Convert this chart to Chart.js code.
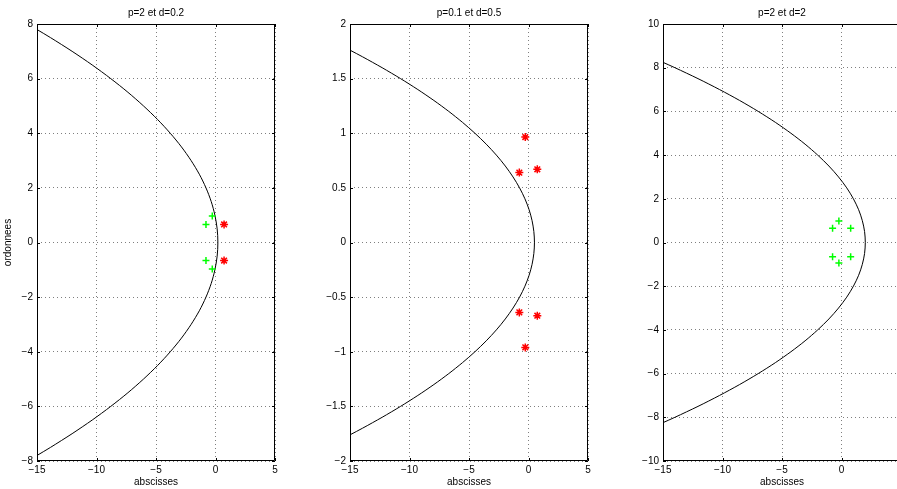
<!DOCTYPE html>
<html>
<head>
<meta charset="utf-8">
<script src="https://cdn.jsdelivr.net/npm/chart.js@4/dist/chart.umd.min.js"></script>
<style>
  html, body { margin:0; padding:0; background:#fff; width:897px; height:489px; overflow:hidden; }
  #wrap { position:relative; width:897px; height:489px; overflow:hidden; }
  canvas { position:absolute; top:0; }
</style>
</head>
<body>
<div id="wrap">
  <canvas id="c1" width="300" height="489" style="left:0px"></canvas>
  <canvas id="c2" width="300" height="489" style="left:313px"></canvas>
  <canvas id="c3" width="300" height="489" style="left:626px"></canvas>
</div>
<script>
// ---------- data ----------
const titles = ["p=2 et d=0.2", "p=0.1 et d=0.5", "p=2 et d=2"];
const xTitle = "abscisses";
const yTitle = "ordonnees";

const xTicksRange = [-15, 5, 5];           // min, max, step
const yTicksRange1 = [-8, 8, 2];
const yTicksRange2 = [-2, 2, 0.5];
const yTicksRange3 = [-10, 10, 2];

// plot 1 : p=2, d=0.2
const curve1Y = [7.8,7.5,7,6.5,6,5.5,5,4.5,4,3.5,3,2.5,2,1.5,1,0.5,0,-0.5,-1,-1.5,-2,-2.5,-3,-3.5,-4,-4.5,-5,-5.5,-6,-6.5,-7,-7.5,-7.8];
const curve1X = [-15.01,-13.86,-12.05,-10.36,-8.8,-7.36,-6.05,-4.86,-3.8,-2.86,-2.05,-1.36,-0.8,-0.36,-0.05,0.14,0.2,0.14,-0.05,-0.36,-0.8,-1.36,-2.05,-2.86,-3.8,-4.86,-6.05,-7.36,-8.8,-10.36,-12.05,-13.86,-15.01];
const green1X = [-0.27, -0.8, -0.8, -0.27];
const green1Y = [0.97, 0.66, -0.66, -0.97];
const red1X = [0.72, 0.72];
const red1Y = [0.66, -0.66];

// plot 2 : p=0.1, d=0.5
const curve2Y = [1.76,1.7,1.6,1.5,1.4,1.3,1.2,1.1,1,0.9,0.8,0.7,0.6,0.5,0.4,0.3,0.2,0.1,0,-0.1,-0.2,-0.3,-0.4,-0.5,-0.6,-0.7,-0.8,-0.9,-1,-1.1,-1.2,-1.3,-1.4,-1.5,-1.6,-1.7,-1.76];
const curve2X = [-14.99,-13.95,-12.3,-10.75,-9.3,-7.95,-6.7,-5.55,-4.5,-3.55,-2.7,-1.95,-1.3,-0.75,-0.3,0.05,0.3,0.45,0.5,0.45,0.3,0.05,-0.3,-0.75,-1.3,-1.95,-2.7,-3.55,-4.5,-5.55,-6.7,-7.95,-9.3,-10.75,-12.3,-13.95,-14.99];
const red2X = [-0.27, -0.77, 0.74, -0.77, 0.74, -0.27];
const red2Y = [0.965, 0.64, 0.67, -0.64, -0.67, -0.96];

// plot 3 : p=2, d=2
const curve3Y = [8.25,8,7.5,7,6.5,6,5.5,5,4.5,4,3.5,3,2.5,2,1.5,1,0.5,0,-0.5,-1,-1.5,-2,-2.5,-3,-3.5,-4,-4.5,-5,-5.5,-6,-6.5,-7,-7.5,-8,-8.25];
const curve3X = [-15.02,-14,-12.06,-10.25,-8.56,-7,-5.56,-4.25,-3.06,-2,-1.06,-0.25,0.44,1,1.44,1.75,1.94,2,1.94,1.75,1.44,1,0.44,-0.25,-1.06,-2,-3.06,-4.25,-5.56,-7,-8.56,-10.25,-12.06,-14,-15.02];
const green3X = [-0.22, -0.75, 0.77, -0.75, 0.77, -0.22];
const green3Y = [0.98, 0.65, 0.65, -0.65, -0.65, -0.94];

// ---------- helpers ----------
const FONT = "'Liberation Sans', Arial, Helvetica, sans-serif";
const pts = (xs, ys) => xs.map((x, i) => ({x: x, y: ys[i]}));
const fmt = v => String(v).replace('-', '\u2212');

const boxPlugin = {
  id: 'box',
  afterDatasetsDraw(chart) {
    const {ctx, chartArea: a, scales: {x, y}} = chart;
    ctx.save();
    ctx.strokeStyle = '#000';
    ctx.lineWidth = 1;
    ctx.beginPath();
    ctx.rect(Math.round(a.left) + 0.5, Math.round(a.top) + 0.5,
             Math.round(a.right - a.left) - 1, Math.round(a.bottom - a.top) - 1);
    ctx.stroke();
    const L = 3;
    ctx.beginPath();
    x.ticks.forEach(t => {
      const px = Math.round(x.getPixelForValue(t.value)) + 0.5;
      ctx.moveTo(px, a.bottom); ctx.lineTo(px, a.bottom - L);
      ctx.moveTo(px, a.top); ctx.lineTo(px, a.top + L);
    });
    y.ticks.forEach(t => {
      const py = Math.round(y.getPixelForValue(t.value)) + 0.5;
      ctx.moveTo(a.left, py); ctx.lineTo(a.left + L, py);
      ctx.moveTo(a.right, py); ctx.lineTo(a.right - L, py);
    });
    ctx.stroke();
    ctx.restore();
  }
};

function makeChart(id, title, yRange, curve, markers, showYTitle) {
  const datasets = markers.map(m => ({
    data: m.data,
    showLine: false,
    pointStyle: m.style,
    pointRadius: m.r,
    pointBorderWidth: m.w,
    borderColor: m.color,
    backgroundColor: m.color,
    pointHoverRadius: m.r
  }));
  datasets.push({
    data: curve,
    showLine: true,
    borderColor: '#000',
    borderWidth: 1,
    pointRadius: 0,
    tension: 0.3,
    fill: false
  });
  return new Chart(document.getElementById(id), {
    type: 'scatter',
    data: { datasets },
    options: {
      responsive: false,
      animation: false,
      devicePixelRatio: 1,
      layout: { padding: { left: 0, right: 25, top: 0, bottom: 0 } },
      plugins: {
        legend: { display: false },
        tooltip: { enabled: false },
        title: {
          display: true, text: title, fullSize: false, color: '#000',
          font: { family: FONT, size: 10, weight: 'normal' },
          padding: { top: 7, bottom: 5 }
        }
      },
      scales: {
        x: {
          type: 'linear', min: xTicksRange[0], max: xTicksRange[1],
          ticks: { stepSize: xTicksRange[2], color: '#000', padding: 3,
                   font: { family: FONT, size: 10 }, callback: fmt, maxRotation: 0 },
          grid: { color: 'rgba(0,0,0,0.5)', drawTicks: false, lineWidth: 1 },
          border: { display: false, dash: [1, 3] },
          title: { display: true, text: xTitle, color: '#000', padding: { top: 0, bottom: 1 },
                   font: { family: FONT, size: 10 } },
          afterFit(s) { s.height = 28; }
        },
        y: {
          type: 'linear', min: yRange[0], max: yRange[1],
          ticks: { stepSize: yRange[2], color: '#000', padding: 4,
                   font: { family: FONT, size: 10 }, callback: fmt },
          grid: { color: 'rgba(0,0,0,0.5)', drawTicks: false, lineWidth: 1 },
          border: { display: false, dash: [1, 3] },
          title: { display: showYTitle, text: yTitle, color: '#000', padding: { top: 2, bottom: 0 },
                   font: { family: FONT, size: 10 } },
          afterFit(s) { s.width = 37; }
        }
      }
    },
    plugins: [boxPlugin]
  });
}

makeChart('c1', titles[0], yTicksRange1, pts(curve1X, curve1Y), [
  { data: pts(green1X, green1Y), style: 'cross', r: 3.5, w: 1.5, color: '#00ff00' },
  { data: pts(red1X, red1Y), style: 'star', r: 4, w: 1.5, color: '#ff0000' }
], true);
makeChart('c2', titles[1], yTicksRange2, pts(curve2X, curve2Y), [
  { data: pts(red2X, red2Y), style: 'star', r: 4, w: 1.5, color: '#ff0000' }
], false);
makeChart('c3', titles[2], yTicksRange3, pts(curve3X, curve3Y), [
  { data: pts(green3X, green3Y), style: 'cross', r: 3.5, w: 1.5, color: '#00ff00' }
], false);
</script>
</body>
</html>
